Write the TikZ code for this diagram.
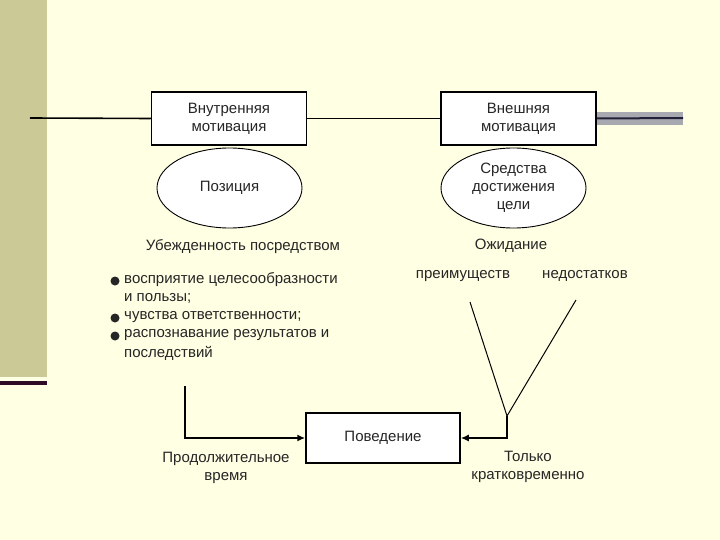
\documentclass[tikz,border=0pt]{standalone}
\usepackage{fontspec}
\setmainfont{Liberation Sans}
\usetikzlibrary{shapes.geometric,arrows.meta}
\definecolor{bg}{HTML}{FFFFE3}
\definecolor{olive}{HTML}{CBCA96}
\definecolor{plum}{HTML}{2E0A24}
\definecolor{greybar}{HTML}{A8A8B0}
\definecolor{navy}{HTML}{202038}
\begin{document}
\begin{tikzpicture}[x=1pt,y=-1pt,
  every node/.style={font=\fontsize{15}{18}\selectfont, text=black!85},
  boxnode/.style={draw, line width=1.5pt, fill=white, minimum width=155pt, minimum height=53pt, align=center, inner sep=0pt},
  ellnode/.style={draw, line width=0.9pt, ellipse, fill=white, minimum width=145pt, minimum height=80pt, align=center, inner sep=0pt},
  lbl/.style={align=center, inner sep=0pt},
  conn/.style={line width=1.6pt},
  arr/.style={line width=2pt, -{Latex[length=8pt,width=7pt]}},
  dot/.style={circle, fill=black!85, minimum size=9pt, inner sep=0pt}]
\useasboundingbox (0,0) rectangle (720,540);
\fill[bg] (0,0) rectangle (720,540);
\fill[olive] (0,0) rectangle (47,377);
\fill[plum] (0,381) rectangle (47,385);
% top row
\node[boxnode] (inner) at (229,118.5) {Внутренняя\\мотивация};
\node[boxnode] (outer) at (518.5,118.5) {Внешняя\\мотивация};
\coordinate (lend) at (30,118);
\coordinate (rend) at (683,118);
\fill[greybar] (outer.east |- 0,112) rectangle (683,125);
\draw[conn] (lend) -- (inner.west);
\draw[conn] (inner.east) -- (outer.west);
\draw[line width=2pt, navy] (outer.east) -- (rend);
\node[ellnode] (pos) at (229.5,188) {Позиция};
\node[ellnode] (means) at (513.5,188) {Средства\\достижения\\цели};
% left text
\node[lbl] (conv) at (243,247) {Убежденность посредством};
\node[lbl, anchor=west] (b1) at (124,280) {восприятие целесообразности};
\node[lbl, anchor=west] (b1b) at (124,298) {и пользы;};
\node[lbl, anchor=west] (b2) at (124,317) {чувства ответственности;};
\node[lbl, anchor=west] (b3) at (124,335) {распознавание результатов и};
\node[lbl, anchor=west] (b3b) at (124,353) {последствий};
\node[dot] (d1) at (115,281) {};
\node[dot] (d2) at (115,318) {};
\node[dot] (d3) at (115,336) {};
% right text
\node[lbl] (exp) at (511,246) {Ожидание};
\node[lbl] (adv) at (463,276) {преимуществ};
\node[lbl] (dis) at (585,276) {недостатков};
\coordinate (va) at (470,302);
\coordinate (vb) at (576,300);
\coordinate (vm) at (507,416);
\draw[line width=1pt] (va) -- (vm) -- (vb);
% bottom
\node[boxnode, minimum width=154pt, minimum height=50pt] (beh) at (383,438) {Поведение};
\coordinate (ltop) at (185,386);
\draw[arr] (ltop) |- (beh.west);
\draw[arr] (vm) |- (beh.east);
\node[lbl] (long) at (226,468) {Продолжительное\\время};
\node[lbl] (short) at (528,467) {Только\\кратковременно};
\end{tikzpicture}
\end{document}
